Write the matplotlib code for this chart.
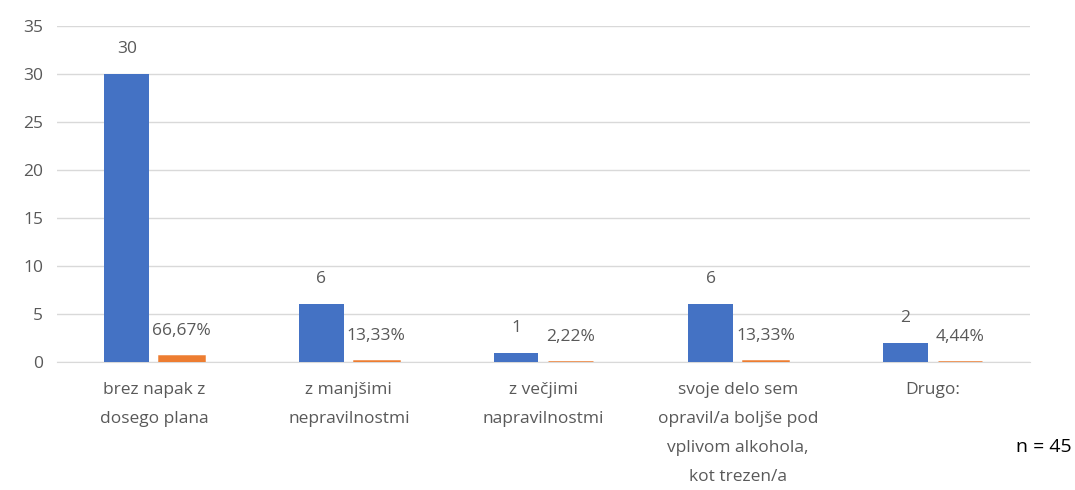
import matplotlib.pyplot as plt
import numpy as np

plt.rcParams['font.family'] = ['Open Sans', 'DejaVu Sans']

categories = ["brez napak z\ndosego plana",
              "z manjšimi\nnepravilnostmi",
              "z večjimi\nnapravilnostmi",
              "svoje delo sem\nopravil/a boljše pod\nvplivom alkohola,\nkot trezen/a",
              "Drugo:"]
counts = [30, 6, 1, 6, 2]
shares = [0.6667, 0.1333, 0.0222, 0.1333, 0.0444]
share_labels = ["66,67%", "13,33%", "2,22%", "13,33%", "4,44%"]

blue = "#4472C4"
orange = "#ED7D31"
grey = "#595959"

fig = plt.figure(figsize=(10.75, 4.9), dpi=100)
ax = fig.add_axes([0.053, 0.261, 0.905, 0.686])

x = np.arange(len(categories))
w = 0.23
off = 0.141

b1 = ax.bar(x - off, counts, w, color=blue, zorder=3)
b2 = ax.bar(x + off, shares, w, color=orange, edgecolor=orange, linewidth=1.8, zorder=4)

for rect, c in zip(b1, counts):
    ax.annotate(str(c), (rect.get_x() + rect.get_width() / 2, rect.get_height()),
                xytext=(0, 18), textcoords="offset points", ha="center", va="center",
                fontsize=12.5, color=grey, zorder=5)
for rect, lab in zip(b2, share_labels):
    ax.annotate(lab, (rect.get_x() + rect.get_width() / 2, rect.get_height()),
                xytext=(0, 18), textcoords="offset points", ha="center", va="center",
                fontsize=12.5, color=grey, zorder=5)

ax.set_xlim(-0.5, len(categories) - 0.5)
ax.set_ylim(0, 35)
ax.set_yticks(range(0, 36, 5))
ax.yaxis.grid(True, color="#d9d9d9", linewidth=1, zorder=0)
ax.set_axisbelow(True)

ax.set_xticks(x)
ax.set_xticklabels(categories, fontsize=12.5, color=grey, linespacing=2.1, va="top")
ax.tick_params(axis="x", length=0, pad=14)
ax.tick_params(axis="y", length=0, pad=10, labelsize=12.5, labelcolor=grey)

for s in ["top", "right", "left"]:
    ax.spines[s].set_visible(False)
ax.spines["bottom"].set_color("#d9d9d9")
ax.spines["bottom"].set_zorder(1)

fig.text(0.997, 0.087, "n = 45", ha="right", va="center", fontsize=14, color="black")

fig.savefig("out.png", dpi=100)
